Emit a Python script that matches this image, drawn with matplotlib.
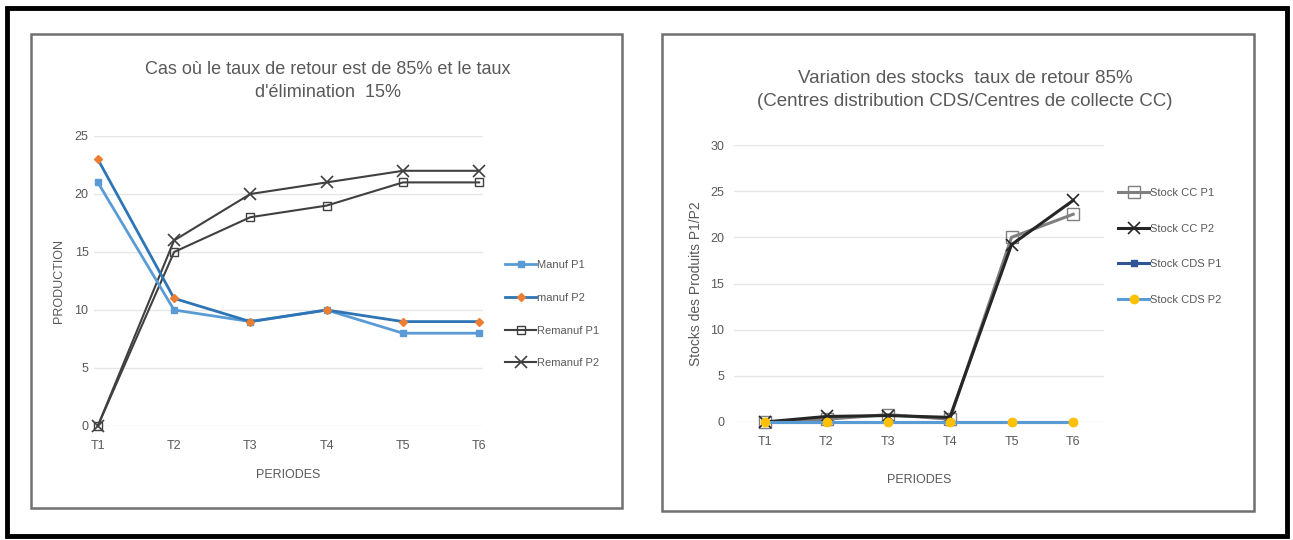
import matplotlib.pyplot as plt
from matplotlib.patches import Rectangle

W, H = 1293, 540

periods = ["T1", "T2", "T3", "T4", "T5", "T6"]

# left chart: production
manuf_p1 = [21, 10, 9, 10, 8, 8]
manuf_p2 = [23, 11, 9, 10, 9, 9]
remanuf_p1 = [0, 15, 18, 19, 21, 21]
remanuf_p2 = [0, 16, 20, 21, 22, 22]

# right chart: stocks
stock_cc_p1 = [0, 0.3, 0.8, 0.3, 20, 22.5]
stock_cc_p2 = [0, 0.6, 0.7, 0.5, 19.2, 24]
stock_cds_p1 = [0, 0, 0, 0, 0, 0]
stock_cds_p2 = [0, 0, 0, 0, 0, 0]

FONT = ["Liberation Sans Narrow", "Liberation Sans", "DejaVu Sans"]
plt.rcParams["font.family"] = FONT
TXT = "#595959"


def px_axes(fig, x0, x1, y_top, y_bot):
    return fig.add_axes([x0 / W, 1 - y_bot / H, (x1 - x0) / W, (y_bot - y_top) / H])


def style_axes(ax, ymax, step, xpad, ypad):
    n = len(periods)
    ax.set_xlim(-xpad, n - 1 + xpad)
    ax.set_ylim(0, ymax)
    ax.set_xticks(range(n))
    ax.set_xticklabels(periods)
    ax.set_yticks(range(0, ymax + 1, step))
    for s in ax.spines.values():
        s.set_visible(False)
    ax.tick_params(length=0, labelsize=9, colors=TXT)
    ax.tick_params(axis="y", pad=ypad)
    ax.tick_params(axis="x", pad=10)
    ax.grid(axis="y", color="#e6e6e6", lw=1)
    ax.set_axisbelow(True)
    ax.patch.set_alpha(0)


fig = plt.figure(figsize=(W / 100, H / 100), dpi=100)

# outer black frame and grey chart frames
fig.patches.append(Rectangle((7 / W, 4 / H), (W - 13) / W, (H - 12) / H,
                             transform=fig.transFigure, fill=False, ec="black", lw=3.5))
fig.patches.append(Rectangle((31 / W, 1 - 508 / H), 591 / W, 474 / H,
                             transform=fig.transFigure, fill=False, ec="#707070", lw=1.8))
fig.patches.append(Rectangle((662 / W, 1 - 511 / H), 592 / W, 477 / H,
                             transform=fig.transFigure, fill=False, ec="#707070", lw=1.8))

x = list(range(len(periods)))

# ---- left chart
ax1 = px_axes(fig, 94, 483, 136, 426)
ax1.plot(x, remanuf_p1, color="#404040", lw=1.5, marker="s", ms=6, mfc="none", mec="#404040",
         label="Remanuf P1", clip_on=False)
ax1.plot(x, remanuf_p2, color="#404040", lw=1.5, marker="x", ms=8, mew=1.2,
         label="Remanuf P2", clip_on=False)
ax1.plot(x, manuf_p1, color="#5B9BD5", lw=2, marker="s", ms=4,
         label="Manuf P1", clip_on=False)
ax1.plot(x, manuf_p2, color="#2E75B6", lw=2, marker="D", ms=4, mfc="#ED7D31", mec="#ED7D31",
         label="manuf P2", clip_on=False)
style_axes(ax1, 25, 5, 0.05, 4)
ax1.set_xlabel("PERIODES", fontsize=9, color=TXT, labelpad=12)
ax1.set_ylabel("PRODUCTION", fontsize=9, color=TXT, labelpad=7)
fig.text(328 / W, 1 - 81 / H, "Cas où le taux de retour est de 85% et le taux\nd'élimination  15%",
         ha="center", va="center", fontsize=13, color=TXT, linespacing=1.5)
h, l = ax1.get_legend_handles_labels()
order = [2, 3, 0, 1]
ax1.legend([h[i] for i in order], [l[i] for i in order], loc="upper left",
           bbox_to_anchor=(505 / W, 1 - 260 / H), bbox_transform=fig.transFigure,
           frameon=False, fontsize=8, labelcolor=TXT, handlelength=2.8, handletextpad=0.1,
           labelspacing=2.05, borderpad=0, borderaxespad=0)

# ---- right chart
ax2 = px_axes(fig, 734, 1104, 145, 422)
ax2.plot(x, stock_cc_p1, color="#7F7F7F", lw=2.2, marker="s", ms=8, mfc="none", mec="#7F7F7F",
         label="Stock CC P1", clip_on=False)
ax2.plot(x, stock_cc_p2, color="#262626", lw=2.2, marker="x", ms=8, mew=1.2,
         label="Stock CC P2", clip_on=False)
ax2.plot(x, stock_cds_p1, color="#2F5597", lw=2.2, marker="s", ms=4,
         label="Stock CDS P1", clip_on=False)
ax2.plot(x, stock_cds_p2, color="#5B9BD5", lw=2.2, marker="o", ms=6, mfc="#FFC000", mec="#FFC000",
         label="Stock CDS P2", clip_on=False)
style_axes(ax2, 30, 5, 0.5, 7)
ax2.set_xlabel("PERIODES", fontsize=9, color=TXT, labelpad=19)
ax2.set_ylabel("Stocks des Produits P1/P2", fontsize=10, color=TXT, labelpad=5)
fig.text(965 / W, 1 - 90 / H, "Variation des stocks  taux de retour 85%\n(Centres distribution CDS/Centres de collecte CC)",
         ha="center", va="center", fontsize=13.5, color=TXT, linespacing=1.5)
ax2.legend(loc="upper left", bbox_to_anchor=(1118 / W, 1 - 188 / H), bbox_transform=fig.transFigure,
           frameon=False, fontsize=8, labelcolor=TXT, handlelength=2.8, handletextpad=0.1,
           labelspacing=2.3, borderpad=0, borderaxespad=0)

fig.savefig("out.png", dpi=100, facecolor="white")
